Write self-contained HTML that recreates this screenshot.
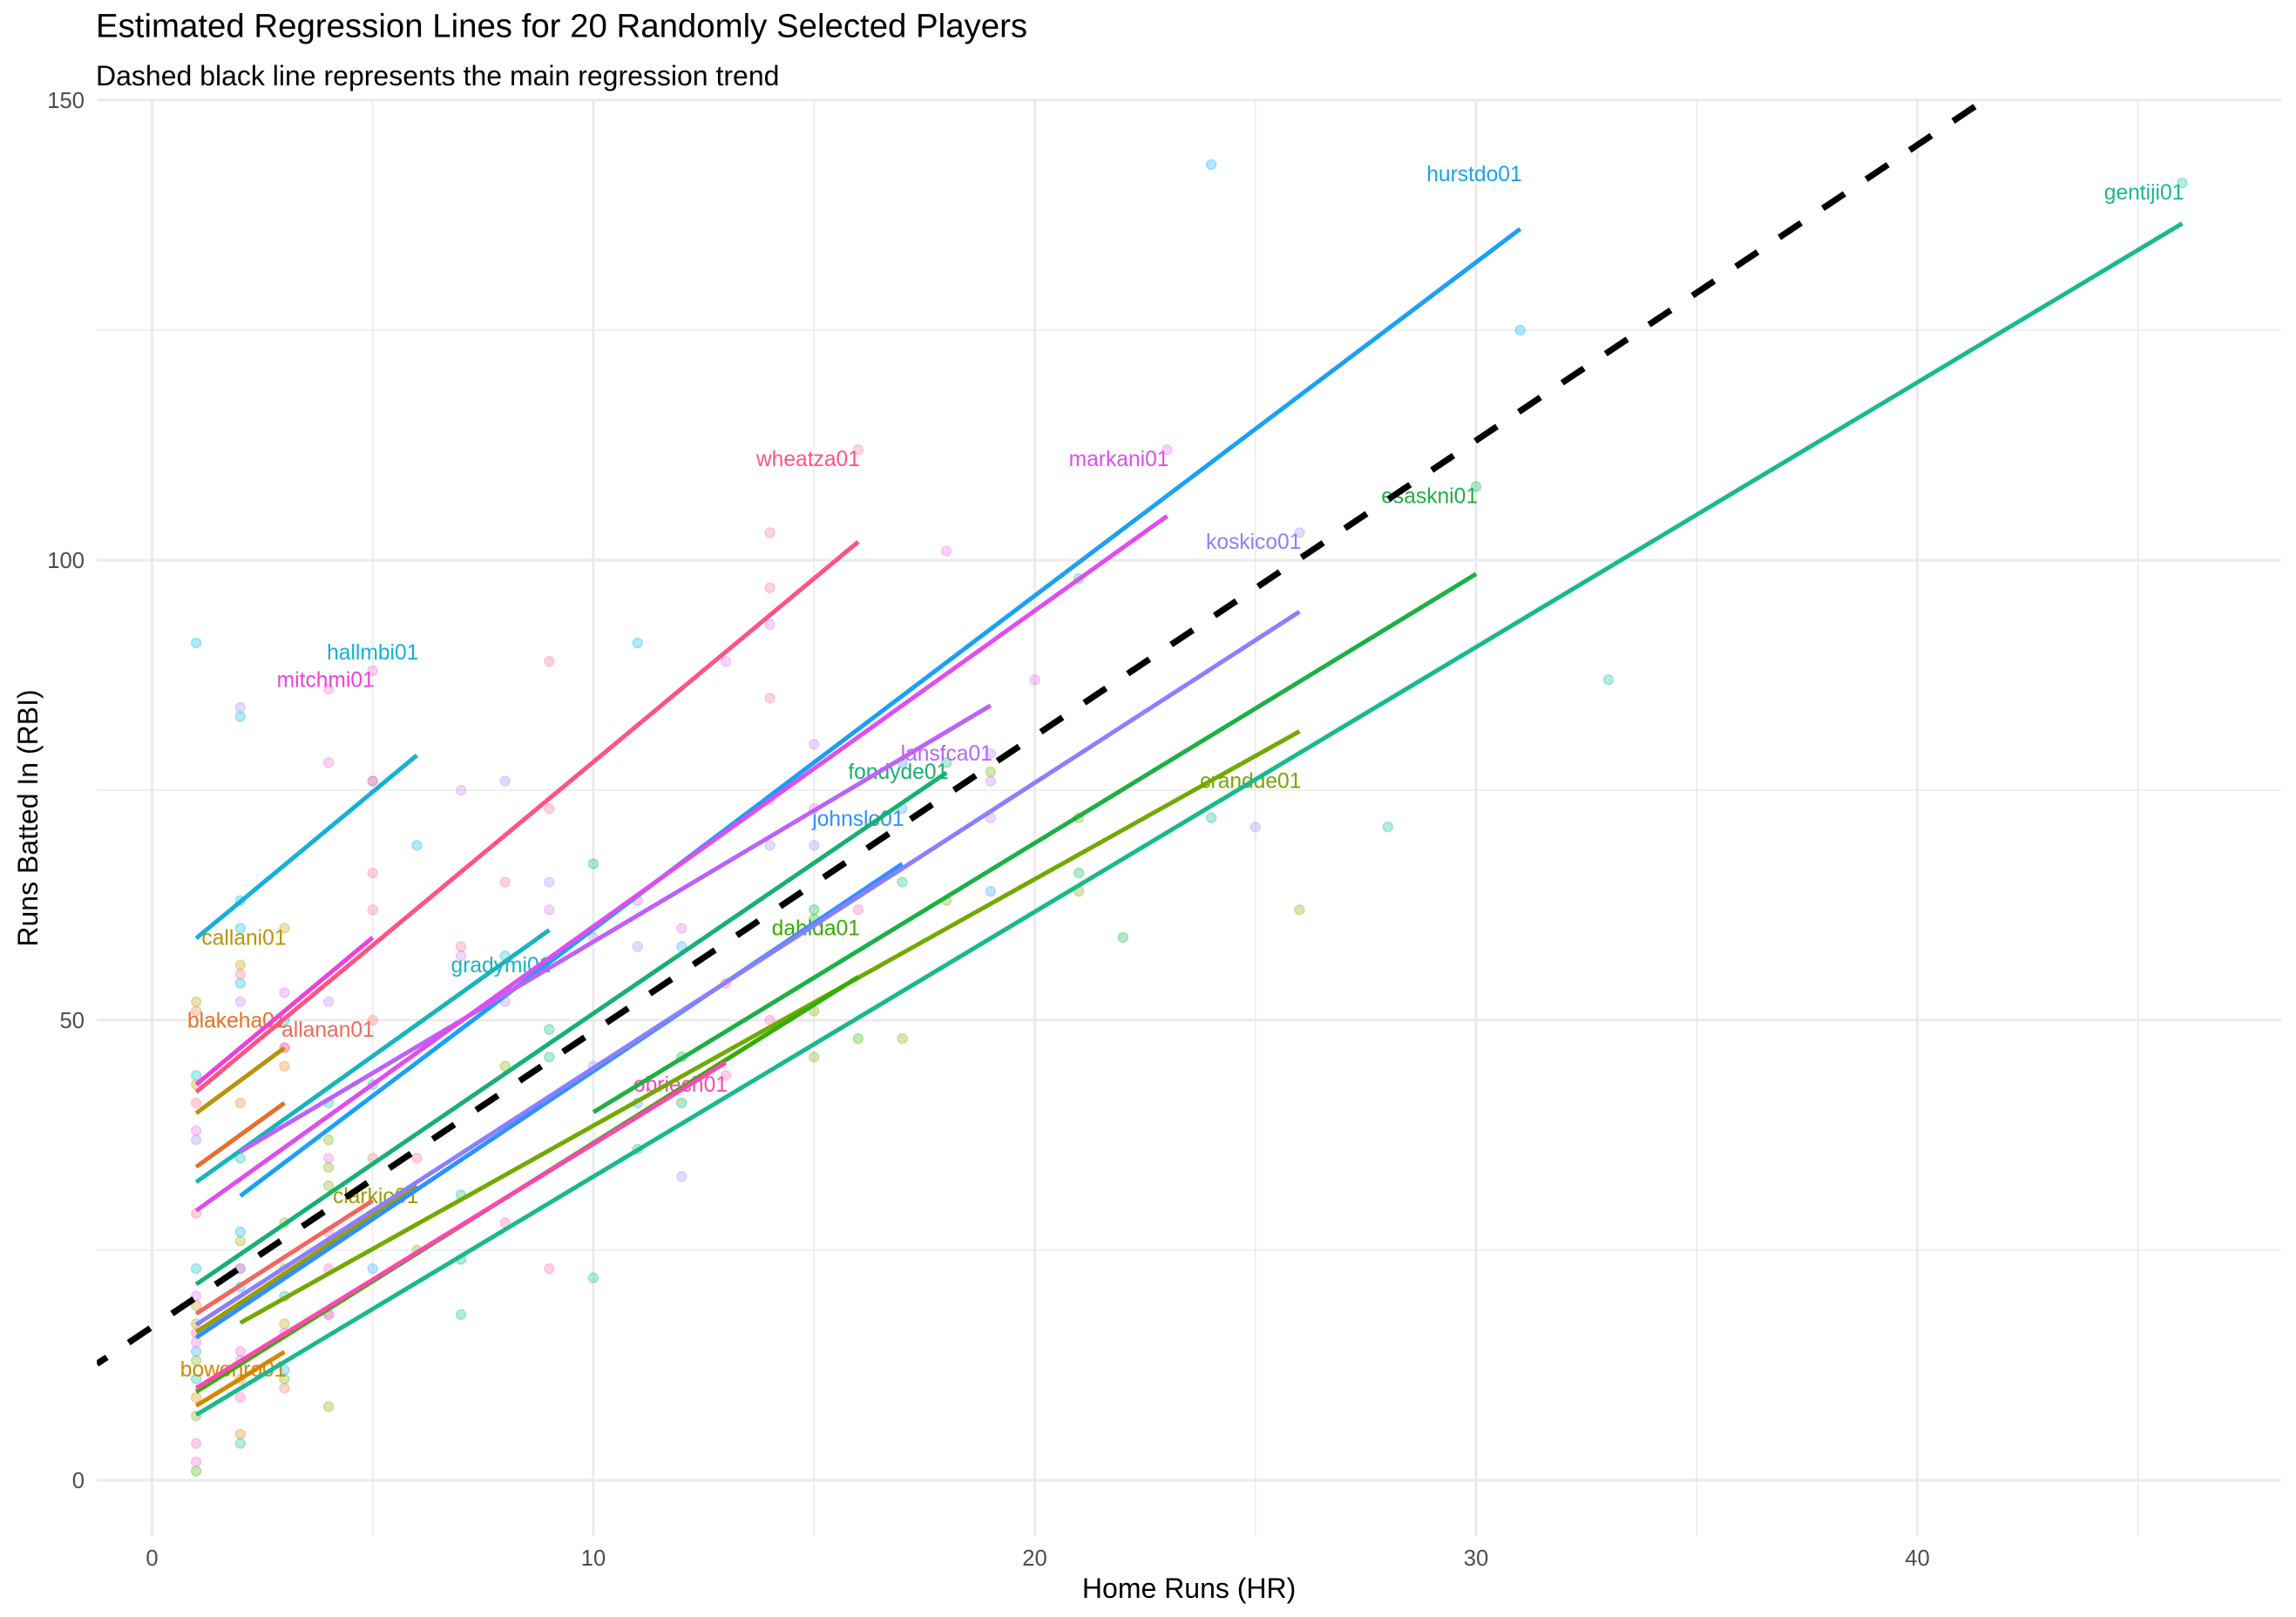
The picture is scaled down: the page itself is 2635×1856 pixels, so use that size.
<!DOCTYPE html>
<html><head><meta charset="utf-8"><style>
html,body{margin:0;padding:0;background:#fff;}
svg{display:block;font-family:"Liberation Sans",Arial,sans-serif;}
</style></head><body>
<svg width="2635" height="1856" viewBox="0 0 2635 1856" xmlns="http://www.w3.org/2000/svg">
<defs>
<clipPath id="pc"><rect x="111.2" y="115" width="2506.8" height="1648"/></clipPath>
<circle id="d" cx="0" cy="0" r="5.5" stroke-width="1.5" transform="scale(0.0197433 -0.0946970)"/>
</defs>
<rect width="2635" height="1856" fill="#fff"/>
<!-- minor grid -->
<g stroke="#EBEBEB" stroke-width="1.6">
<line x1="111.2" x2="2618" y1="1435" y2="1435"/>
<line x1="111.2" x2="2618" y1="907" y2="907"/>
<line x1="111.2" x2="2618" y1="379" y2="379"/>
<line y1="115" y2="1763" x1="427.75" x2="427.75"/>
<line y1="115" y2="1763" x1="934.25" x2="934.25"/>
<line y1="115" y2="1763" x1="1440.75" x2="1440.75"/>
<line y1="115" y2="1763" x1="1947.25" x2="1947.25"/>
<line y1="115" y2="1763" x1="2453.75" x2="2453.75"/>
</g>
<!-- major grid -->
<g stroke="#EBEBEB" stroke-width="3.1">
<line x1="111.2" x2="2618" y1="1699" y2="1699"/>
<line x1="111.2" x2="2618" y1="1171" y2="1171"/>
<line x1="111.2" x2="2618" y1="643" y2="643"/>
<line x1="111.2" x2="2618" y1="115" y2="115"/>
<line y1="115" y2="1763" x1="174.5" x2="174.5"/>
<line y1="115" y2="1763" x1="681" x2="681"/>
<line y1="115" y2="1763" x1="1187.5" x2="1187.5"/>
<line y1="115" y2="1763" x1="1694" x2="1694"/>
<line y1="115" y2="1763" x1="2200.5" x2="2200.5"/>
</g>
<!-- points -->
<g transform="translate(174.5 1699) scale(50.65 -10.56)" fill-opacity="0.3" stroke-opacity="0.3">
<g fill="#F8766D" stroke="#F8766D"><use href="#d" x="5" y="50"/><use href="#d" x="3" y="47"/><use href="#d" x="5" y="35"/><use href="#d" x="4" y="18"/><use href="#d" x="1" y="29"/><use href="#d" x="2" y="23"/><use href="#d" x="3" y="10"/></g>
<g fill="#EA8331" stroke="#EA8331"><use href="#d" x="1" y="51"/><use href="#d" x="3" y="45"/><use href="#d" x="2" y="41"/></g>
<g fill="#D89000" stroke="#D89000"><use href="#d" x="1" y="9"/><use href="#d" x="2" y="11"/><use href="#d" x="2" y="5"/></g>
<g fill="#C09B00" stroke="#C09B00"><use href="#d" x="3" y="60"/><use href="#d" x="2" y="56"/><use href="#d" x="1" y="52"/><use href="#d" x="1" y="43"/><use href="#d" x="1" y="19"/><use href="#d" x="3" y="17"/></g>
<g fill="#A3A500" stroke="#A3A500"><use href="#d" x="2" y="26"/><use href="#d" x="3" y="28"/><use href="#d" x="3" y="23"/><use href="#d" x="1" y="17"/></g>
<g fill="#7CAE00" stroke="#7CAE00"><use href="#d" x="8" y="45"/><use href="#d" x="4" y="37"/><use href="#d" x="4" y="34"/><use href="#d" x="4" y="32"/><use href="#d" x="6" y="25"/><use href="#d" x="1" y="13"/><use href="#d" x="3" y="11"/><use href="#d" x="4" y="8"/><use href="#d" x="1" y="7"/><use href="#d" x="19" y="77"/><use href="#d" x="18" y="63"/><use href="#d" x="15" y="51"/><use href="#d" x="15" y="46"/><use href="#d" x="17" y="48"/><use href="#d" x="21" y="72"/><use href="#d" x="21" y="64"/><use href="#d" x="26" y="62"/></g>
<g fill="#39B600" stroke="#39B600"><use href="#d" x="1" y="1"/><use href="#d" x="15" y="61"/><use href="#d" x="16" y="48"/></g>
<g fill="#00BB4E" stroke="#00BB4E"><use href="#d" x="10" y="67"/><use href="#d" x="15" y="62"/><use href="#d" x="12" y="46"/><use href="#d" x="12" y="41"/><use href="#d" x="21" y="66"/><use href="#d" x="22" y="59"/><use href="#d" x="30" y="108"/></g>
<g fill="#00BF7D" stroke="#00BF7D"><use href="#d" x="9" y="49"/><use href="#d" x="9" y="46"/><use href="#d" x="7" y="31"/><use href="#d" x="7" y="24"/><use href="#d" x="18" y="78"/><use href="#d" x="17" y="65"/></g>
<g fill="#00C1A3" stroke="#00C1A3"><use href="#d" x="2" y="35"/><use href="#d" x="7" y="18"/><use href="#d" x="3" y="20"/><use href="#d" x="1" y="11"/><use href="#d" x="2" y="4"/><use href="#d" x="21" y="98"/><use href="#d" x="24" y="72"/><use href="#d" x="28" y="71"/><use href="#d" x="33" y="87"/><use href="#d" x="46" y="141"/><use href="#d" x="11" y="36"/><use href="#d" x="10" y="22"/></g>
<g fill="#00BFC4" stroke="#00BFC4"><use href="#d" x="8" y="57"/><use href="#d" x="1" y="44"/><use href="#d" x="4" y="41"/><use href="#d" x="5" y="43"/><use href="#d" x="1" y="23"/></g>
<g fill="#00BAE0" stroke="#00BAE0"><use href="#d" x="2" y="60"/><use href="#d" x="2" y="54"/><use href="#d" x="3" y="50"/><use href="#d" x="2" y="27"/><use href="#d" x="1" y="91"/><use href="#d" x="2" y="83"/><use href="#d" x="6" y="69"/><use href="#d" x="2" y="63"/></g>
<g fill="#00B0F6" stroke="#00B0F6"><use href="#d" x="2" y="21"/><use href="#d" x="3" y="12"/><use href="#d" x="24" y="143"/><use href="#d" x="31" y="125"/><use href="#d" x="11" y="91"/></g>
<g fill="#35A2FF" stroke="#35A2FF"><use href="#d" x="5" y="23"/><use href="#d" x="1" y="14"/><use href="#d" x="17" y="78"/><use href="#d" x="17" y="73"/><use href="#d" x="19" y="64"/><use href="#d" x="12" y="58"/><use href="#d" x="11" y="41"/></g>
<g fill="#9590FF" stroke="#9590FF"><use href="#d" x="1" y="37"/><use href="#d" x="2" y="23"/><use href="#d" x="2" y="13"/><use href="#d" x="2" y="84"/><use href="#d" x="5" y="76"/><use href="#d" x="8" y="76"/><use href="#d" x="9" y="65"/><use href="#d" x="14" y="69"/><use href="#d" x="15" y="69"/><use href="#d" x="11" y="58"/><use href="#d" x="10" y="45"/><use href="#d" x="25" y="71"/><use href="#d" x="26" y="103"/><use href="#d" x="12" y="33"/></g>
<g fill="#C77CFF" stroke="#C77CFF"><use href="#d" x="2" y="52"/><use href="#d" x="4" y="52"/><use href="#d" x="7" y="57"/><use href="#d" x="8" y="52"/><use href="#d" x="7" y="75"/><use href="#d" x="15" y="80"/><use href="#d" x="19" y="79"/><use href="#d" x="19" y="76"/><use href="#d" x="19" y="72"/></g>
<g fill="#E76BF3" stroke="#E76BF3"><use href="#d" x="3" y="53"/><use href="#d" x="4" y="35"/><use href="#d" x="1" y="20"/><use href="#d" x="4" y="18"/><use href="#d" x="9" y="62"/><use href="#d" x="15" y="73"/><use href="#d" x="14" y="74"/><use href="#d" x="11" y="63"/><use href="#d" x="10" y="59"/><use href="#d" x="12" y="60"/><use href="#d" x="14" y="93"/><use href="#d" x="13" y="89"/><use href="#d" x="18" y="101"/><use href="#d" x="20" y="87"/><use href="#d" x="23" y="112"/></g>
<g fill="#FA62DB" stroke="#FA62DB"><use href="#d" x="3" y="47"/><use href="#d" x="1" y="38"/><use href="#d" x="1" y="15"/><use href="#d" x="1" y="2"/><use href="#d" x="4" y="86"/><use href="#d" x="5" y="88"/><use href="#d" x="4" y="78"/></g>
<g fill="#FF62BC" stroke="#FF62BC"><use href="#d" x="9" y="23"/><use href="#d" x="4" y="23"/><use href="#d" x="4" y="27"/><use href="#d" x="2" y="14"/><use href="#d" x="3" y="16"/><use href="#d" x="2" y="9"/><use href="#d" x="1" y="4"/><use href="#d" x="16" y="62"/><use href="#d" x="13" y="54"/><use href="#d" x="14" y="50"/><use href="#d" x="13" y="44"/></g>
<g fill="#FF6C91" stroke="#FF6C91"><use href="#d" x="2" y="55"/><use href="#d" x="7" y="58"/><use href="#d" x="1" y="41"/><use href="#d" x="6" y="35"/><use href="#d" x="8" y="28"/><use href="#d" x="1" y="16"/><use href="#d" x="9" y="89"/><use href="#d" x="9" y="73"/><use href="#d" x="5" y="66"/><use href="#d" x="5" y="62"/><use href="#d" x="8" y="65"/><use href="#d" x="14" y="103"/><use href="#d" x="14" y="97"/><use href="#d" x="14" y="85"/><use href="#d" x="16" y="112"/><use href="#d" x="5" y="76"/></g>
</g>
<!-- labels -->
<g font-size="24.6" text-anchor="end">
<text x="429.75" y="1189.9" fill="#F2665F">allanan01</text>
<text x="328.5" y="1179.3" fill="#E3722A">blakeha01</text>
<text x="328.5" y="1579.8" fill="#D48600">bowenro01</text>
<text x="328.5" y="1084.3" fill="#B8930A">callani01</text>
<text x="480.4" y="1381" fill="#9C9C00">clarkjo01</text>
<text x="1493.4" y="904.7" fill="#72A900">crandde01</text>
<text x="986.9" y="1073.7" fill="#33AD00">dahlda01</text>
<text x="1696" y="577.4" fill="#1DB044">esaskni01</text>
<text x="1088.2" y="894.2" fill="#17B070">fondyde01</text>
<text x="2506.4" y="228.9" fill="#1BB890">gentiji01</text>
<text x="632.35" y="1115.9" fill="#18B4BC">gradymi01</text>
<text x="480.4" y="756.9" fill="#16B0D8">hallmbi01</text>
<text x="1746.65" y="207.8" fill="#1BA1F2">hurstdo01</text>
<text x="1037.55" y="948" fill="#2F90FF">johnslo01</text>
<text x="1493.4" y="630.2" fill="#8A80FF">koskico01</text>
<text x="1138.85" y="873.1" fill="#BC62F8">lansfca01</text>
<text x="1341.45" y="535.1" fill="#DE4EEE">markani01</text>
<text x="429.75" y="788.6" fill="#F040D8">mitchmi01</text>
<text x="834.95" y="1253.2" fill="#FA48B0">obriech01</text>
<text x="986.9" y="535.1" fill="#FF5286">wheatza01</text>
</g>
<!-- regression lines -->
<g stroke-width="5" fill="none" stroke-linecap="butt">
<line x1="225.15" y1="1507.9" x2="427.75" y2="1378.0" stroke="#F2665F"/>
<line x1="225.15" y1="1339.4" x2="326.45" y2="1266.0" stroke="#E3722A"/>
<line x1="225.15" y1="1613.5" x2="326.45" y2="1551.7" stroke="#D48600"/>
<line x1="225.15" y1="1277.7" x2="326.45" y2="1202.7" stroke="#B8930A"/>
<line x1="225.15" y1="1529.0" x2="478.4" y2="1361.1" stroke="#9C9C00"/>
<line x1="275.8" y1="1518.4" x2="1491.4" y2="839.4" stroke="#72A900"/>
<line x1="225.15" y1="1597.6" x2="984.9" y2="1121.4" stroke="#33AD00"/>
<line x1="681.0" y1="1276.6" x2="1694.0" y2="658.8" stroke="#1DB044"/>
<line x1="225.15" y1="1474.1" x2="1086.2" y2="886.9" stroke="#17B070"/>
<line x1="225.15" y1="1624.0" x2="2504.4" y2="256.5" stroke="#1BB890"/>
<line x1="225.15" y1="1356.9" x2="630.35" y2="1067.5" stroke="#18B4BC"/>
<line x1="225.15" y1="1077.0" x2="478.4" y2="866.9" stroke="#16B0D8"/>
<line x1="275.8" y1="1372.7" x2="1744.65" y2="262.8" stroke="#1BA1F2"/>
<line x1="225.15" y1="1535.3" x2="1035.55" y2="991.5" stroke="#2F90FF"/>
<line x1="225.15" y1="1520.5" x2="1491.4" y2="702.1" stroke="#8A80FF"/>
<line x1="275.8" y1="1322.0" x2="1136.85" y2="809.8" stroke="#BC62F8"/>
<line x1="225.15" y1="1389.6" x2="1339.45" y2="592.3" stroke="#DE4EEE"/>
<line x1="225.15" y1="1244.9" x2="427.75" y2="1076.0" stroke="#F040D8"/>
<line x1="225.15" y1="1593.4" x2="832.95" y2="1219.6" stroke="#FA48B0"/>
<line x1="225.15" y1="1253.4" x2="984.9" y2="621.9" stroke="#FF5286"/>
</g>
<!-- main dashed trend -->
<g clip-path="url(#pc)">
<line x1="111.2" y1="1565.5" x2="2277.3" y2="115" stroke="#000" stroke-width="7.2" stroke-dasharray="30 30" stroke-dashoffset="16.2" stroke-linecap="butt"/>
</g>
<!-- axis tick labels -->
<g font-size="25.6" fill="#4D4D4D">
<g text-anchor="end">
<text x="97" y="1708">0</text>
<text x="97" y="1180">50</text>
<text x="97" y="652">100</text>
<text x="97" y="124">150</text>
</g>
<g text-anchor="middle">
<text x="174.5" y="1797">0</text>
<text x="681" y="1797">10</text>
<text x="1187.5" y="1797">20</text>
<text x="1694" y="1797">30</text>
<text x="2200.5" y="1797">40</text>
</g>
</g>
<!-- axis titles -->
<text x="1364.6" y="1834" font-size="32" text-anchor="middle" fill="#000">Home Runs (HR)</text>
<text transform="translate(43 939) rotate(-90)" font-size="32" text-anchor="middle" fill="#000">Runs Batted In (RBI)</text>
<!-- title / subtitle -->
<text x="110" y="42.5" font-size="38.4" fill="#000">Estimated Regression Lines for 20 Randomly Selected Players</text>
<text x="110" y="98" font-size="32" fill="#000">Dashed black line represents the main regression trend</text>
</svg>
</body></html>
